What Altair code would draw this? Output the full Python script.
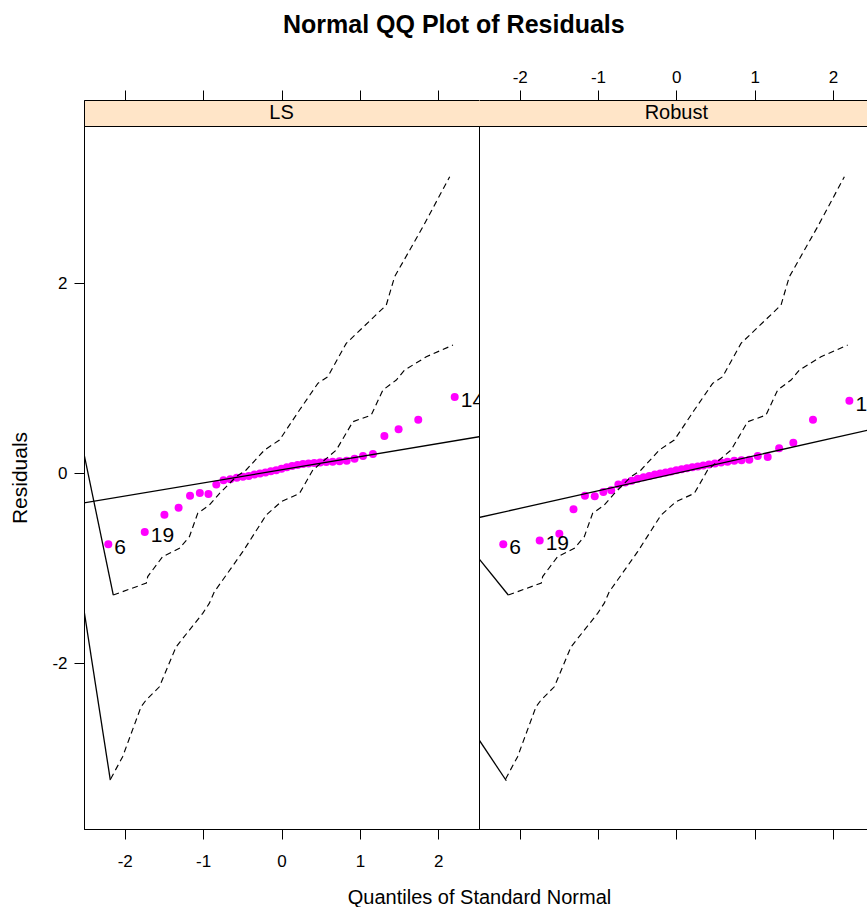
import altair as alt
import pandas as pd

FONT = "Liberation Sans"
MAGENTA = "#FF00FF"
STRIP_FILL = "#FFE5C8"

# Standard normal quantiles for the 37 ordered residuals
quantiles = [-2.21, -1.745, -1.494, -1.313, -1.167, -1.042, -0.932, -0.832, -0.740, -0.653,
             -0.571, -0.493, -0.418, -0.345, -0.274, -0.205, -0.136, -0.068, 0.0, 0.068,
             0.136, 0.205, 0.274, 0.345, 0.418, 0.493, 0.571, 0.653, 0.740, 0.832,
             0.932, 1.040, 1.167, 1.313, 1.494, 1.745, 2.21]

# Ordered residuals of the least-squares fit
ls_resid = [-0.75, -0.62, -0.44, -0.365, -0.24, -0.21, -0.22, -0.12, -0.075, -0.065,
            -0.05, -0.04, -0.03, -0.015, -0.005, 0.005, 0.02, 0.03, 0.045, 0.06,
            0.075, 0.085, 0.095, 0.10, 0.105, 0.11, 0.115, 0.12, 0.125, 0.13,
            0.15, 0.18, 0.20, 0.39, 0.46, 0.56, 0.80]

# Ordered residuals of the robust fit
robust_resid = [-0.75, -0.71, -0.64, -0.38, -0.24, -0.245, -0.20, -0.18, -0.12, -0.10,
                -0.08, -0.06, -0.045, -0.03, -0.015, -0.005, 0.005, 0.015, 0.03, 0.04,
                0.05, 0.06, 0.07, 0.08, 0.09, 0.10, 0.11, 0.12, 0.13, 0.135,
                0.14, 0.18, 0.17, 0.26, 0.32, 0.56, 0.76]

# Observation numbers printed next to the extreme points
obs_labels = ["6", "19"] + [""] * 34 + ["14"]

# Simulation envelope (same in both panels)
env_upper_x = [-2.146, -1.724, -1.707, -1.516, -1.303, -1.175, -1.069, -0.92, -0.79, -0.579,
               -0.451, -0.217, -0.026, 0.23, 0.464, 0.591, 0.826, 1.337, 1.443, 1.805, 2.146]
env_upper_y = [-1.284, -1.158, -1.09, -0.88, -0.793, -0.67, -0.424, -0.337, -0.214, -0.039,
               0.032, 0.242, 0.347, 0.663, 0.944, 1.014, 1.365, 1.768, 2.066, 2.593, 3.119]
env_lower_x = [-2.18, -2.027, -1.792, -1.728, -1.558, -1.345, -1.005, -0.92, -0.856, -0.75,
               -0.494, -0.195, -0.004, 0.23, 0.40, 0.699, 0.911, 1.145, 1.294, 1.465,
               1.571, 1.848, 2.188]
env_lower_y = [-3.22, -2.986, -2.46, -2.39, -2.25, -1.83, -1.477, -1.37, -1.249, -1.126,
               -0.828, -0.442, -0.302, -0.214, 0.032, 0.242, 0.54, 0.61, 0.874, 0.979,
               1.084, 1.224, 1.347]

# Solid leader segments running off the left edge of each panel
ls_edge_x = [[-2.146, -2.60], [-2.184, -2.60]]
ls_edge_y = [[-1.284, 0.52], [-3.232, -1.02]]
robust_edge_x = [[-2.146, -2.60], [-2.171, -2.60]]
robust_edge_y = [[-1.284, -0.82], [-3.239, -2.709]]

# Reference lines: (intercept, slope)
ls_line = (0.034, 0.138)
robust_line = (-0.002, 0.185)

x_ticks = [-2, -1, 0, 1, 2]
y_ticks = [-2, 0, 2]
x_domains = {"LS": [-2.52, 2.52], "Robust": [-2.52, 2.435]}
panel_widths = {"LS": 395, "Robust": 388}
y_domain = [-3.747, 3.653]
PLOT_H = 703
STRIP_H = 26
LABEL_EXPR = "toString(datum.value)"


def edge_frame(xs_list, ys_list):
    rows = []
    for k, (xs, ys) in enumerate(zip(xs_list, ys_list)):
        for x, y in zip(xs, ys):
            rows.append({"x": x, "y": y, "seg": k})
    return pd.DataFrame(rows)


def x_scale(name):
    return alt.Scale(domain=x_domains[name], nice=False, zero=False)


def strip_panel(name, first):
    top_axis = alt.Axis(orient="top", values=x_ticks, tickSize=10, labels=not first,
                        labelPadding=4, labelExpr=LABEL_EXPR, title=None, grid=False,
                        domain=True)
    view = (alt.ViewBackground(fill=STRIP_FILL, stroke="black", strokeWidth=1) if first
            else alt.ViewBackground(fill=STRIP_FILL, strokeWidth=0))
    return alt.Chart(pd.DataFrame({"x": [0.0], "name": [name]})).mark_text(
        fontSize=20, font=FONT, color="black", baseline="middle", align="center",
    ).encode(
        x=alt.X("x:Q", scale=x_scale(name), axis=top_axis),
        y=alt.value(STRIP_H / 2),
        text="name:N",
    ).properties(width=panel_widths[name], height=STRIP_H, view=view)


def plot_panel(name, resid, edge_x, edge_y, line, first):
    xs = x_scale(name)
    ys = alt.Scale(domain=y_domain, nice=False, zero=False)

    pts = pd.DataFrame({"x": quantiles, "y": resid, "lab": obs_labels})
    up = pd.DataFrame({"x": env_upper_x, "y": env_upper_y})
    lo = pd.DataFrame({"x": env_lower_x, "y": env_lower_y})
    edges = edge_frame(edge_x, edge_y)
    a, b = line
    ref = pd.DataFrame({"x": [-2.6, 2.6], "y": [a + b * -2.6, a + b * 2.6]})

    if first:
        # the x title sits centred on the join between the two panels
        bottom_axis = alt.Axis(orient="bottom", values=x_ticks, tickSize=10, labelPadding=14,
                               labelExpr=LABEL_EXPR, title="Quantiles of Standard Normal",
                               titleAnchor="end", titleAlign="center", titlePadding=18,
                               titleFontSize=20, grid=False)
        y_axis = alt.Axis(orient="left", values=y_ticks, tickSize=10, labelPadding=7,
                          labelExpr=LABEL_EXPR, title="Residuals", titlePadding=21,
                          grid=False)
    else:
        bottom_axis = alt.Axis(orient="bottom", values=x_ticks, tickSize=10, labels=False,
                               title=None, grid=False)
        y_axis = None

    top_border = alt.Axis(orient="top", ticks=False, labels=False, title=None, grid=False,
                          domain=True)

    points = alt.Chart(pts).mark_circle(size=64, color=MAGENTA, opacity=1, clip=True).encode(
        x=alt.X("x:Q", scale=xs, axis=bottom_axis),
        y=alt.Y("y:Q", scale=ys, axis=y_axis),
    )
    labels = alt.Chart(pts).transform_filter("datum.lab != ''").mark_text(
        align="left", baseline="middle", dx=6, dy=4, fontSize=21, font=FONT,
        color="black", clip=True,
    ).encode(
        x=alt.X("x:Q", scale=xs, axis=None),
        y=alt.Y("y:Q", scale=ys, axis=None),
        text="lab:N",
    )
    dashed = [
        alt.Chart(d).mark_line(color="black", strokeWidth=1.15, strokeDash=[6, 4], clip=True).encode(
            x=alt.X("x:Q", scale=xs, axis=None),
            y=alt.Y("y:Q", scale=ys, axis=None),
            order="x:Q",
        )
        for d in (up, lo)
    ]
    edge_lines = alt.Chart(edges).mark_line(color="black", strokeWidth=1.3, clip=True).encode(
        x=alt.X("x:Q", scale=xs, axis=None),
        y=alt.Y("y:Q", scale=ys, axis=None),
        detail="seg:N",
        order="x:Q",
    )
    ref_line = alt.Chart(ref).mark_line(color="black", strokeWidth=1.3, clip=True).encode(
        x=alt.X("x:Q", scale=xs, axis=None if first else top_border),
        y=alt.Y("y:Q", scale=ys, axis=None),
    )

    plot = alt.layer(points, labels, dashed[0], dashed[1], edge_lines, ref_line).resolve_axis(
        x="independent", y="independent")
    if first:
        return plot.properties(width=panel_widths[name], height=PLOT_H,
                               view=alt.ViewBackground(stroke="black", strokeWidth=1))
    return plot.properties(width=panel_widths[name], height=PLOT_H,
                           view=alt.ViewBackground(strokeWidth=0))


chart = alt.concat(
    strip_panel("LS", True),
    strip_panel("Robust", False),
    plot_panel("LS", ls_resid, ls_edge_x, ls_edge_y, ls_line, True),
    plot_panel("Robust", robust_resid, robust_edge_x, robust_edge_y, robust_line, False),
    columns=2, spacing=0, bounds="flush",
).resolve_scale(
    x="independent", y="independent"
).properties(
    title=alt.TitleParams(
        "Normal QQ Plot of Residuals", font=FONT, fontSize=25, fontWeight="bold",
        anchor="start", frame="group", dx=199, offset=30, color="black",
    ),
    padding={"left": 9, "top": 13, "right": 0, "bottom": 0},
).configure_axis(
    labelFont=FONT, labelFontSize=17, labelColor="black",
    titleFont=FONT, titleFontSize=21, titleColor="black", titleFontWeight="normal",
    domainColor="black", tickColor="black", domainWidth=1, tickWidth=1,
).configure_view(strokeWidth=0)

chart.save("out.html", embed_options={"renderer": "svg", "actions": False})
